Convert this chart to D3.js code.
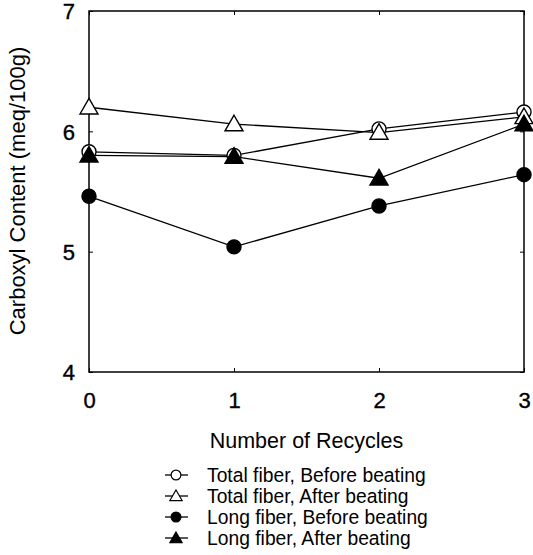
<!DOCTYPE html>
<html><head><meta charset="utf-8">
<script src="https://cdn.jsdelivr.net/npm/d3@7"></script>
<style>body{margin:0;background:#fff}</style>
</head><body>
<svg id="c" width="533" height="555"></svg>
<script>
const recycles = [0, 1, 2, 3];
const totalBefore = [5.83, 5.80, 6.02, 6.16];
const totalAfter = [6.20, 6.06, 5.99, 6.12];
const longBefore = [5.46, 5.04, 5.38, 5.64];
const longAfter = [5.80, 5.79, 5.61, 6.06];
const seriesNames = ["Total fiber, Before beating","Total fiber, After beating","Long fiber, Before beating","Long fiber, After beating"];
const xTicks = [0, 1, 2, 3];
const yTicks = [4, 5, 6, 7];

const series = [
  {name: seriesNames[0], values: totalBefore, shape: "circle", fill: "#fff"},
  {name: seriesNames[1], values: totalAfter, shape: "triangle", fill: "#fff"},
  {name: seriesNames[2], values: longBefore, shape: "circle", fill: "#000"},
  {name: seriesNames[3], values: longAfter, shape: "triangle", fill: "#000"}
];

const svg = d3.select("#c");
const L = 89, R = 524, T = 11, B = 372;
const x = d3.scaleLinear().domain([0, 3]).range([L, R]);
const y = d3.scaleLinear().domain([4, 7]).range([B, T]);
const font = "Liberation Sans, Arial, sans-serif";

// frame
svg.append("rect").attr("x", L).attr("y", T).attr("width", R - L).attr("height", B - T)
  .attr("fill", "none").attr("stroke", "#000").attr("stroke-width", 1.5);

// axes with inward ticks
const gx = svg.append("g").attr("transform", `translate(0,${B})`)
  .call(d3.axisBottom(x).tickValues(xTicks).tickSize(-4).tickPadding(20).tickFormat(d3.format("d")));
const gy = svg.append("g").attr("transform", `translate(${L},0)`)
  .call(d3.axisLeft(y).tickValues(yTicks).tickSize(-4).tickPadding(14).tickFormat(d3.format("d")));
svg.append("g").attr("transform", `translate(${R},0)`)
  .call(d3.axisRight(y).tickValues(yTicks).tickSize(-4).tickFormat(""));
svg.append("g").attr("transform", `translate(0,${T})`)
  .call(d3.axisTop(x).tickValues(xTicks).tickSize(-4).tickFormat(""));
svg.selectAll(".domain").remove();
svg.selectAll(".tick line").attr("stroke", "#000").attr("stroke-width", 1);
svg.selectAll(".tick text").attr("font-family", font).attr("font-size", 22).attr("fill", "#000")
  .attr("stroke", "#000").attr("stroke-width", 0.4);
gx.selectAll(".tick text").attr("dy", "0.71em");
gy.selectAll(".tick text").attr("dy", "0.36em");

// axis titles
svg.append("text").attr("x", x(1.5)).attr("y", 448).attr("text-anchor", "middle")
  .attr("font-family", font).attr("font-size", 21.5).text("Number of Recycles");
svg.append("text").attr("transform", `translate(25,191) rotate(-90)`)
  .attr("text-anchor", "middle").attr("font-family", font).attr("font-size", 22)
  .text("Carboxyl Content (meq/100g)");

const sym = s => s === "circle" ? d3.symbol(d3.symbolCircle, 155)() : d3.symbol(d3.symbolTriangle, 140)();
const line = d3.line().x((d, i) => x(recycles[i])).y(d => y(d));

series.forEach(s => {
  svg.append("path").attr("d", line(s.values)).attr("fill", "none")
    .attr("stroke", "#000").attr("stroke-width", 1.3);
});
series.forEach(s => {
  svg.append("g").selectAll("path").data(s.values).join("path")
    .attr("transform", (d, i) => `translate(${x(recycles[i])},${y(d) + (s.shape === "triangle" ? 1.5 : 0)})`)
    .attr("d", sym(s.shape)).attr("fill", s.fill).attr("stroke", "#000").attr("stroke-width", 1.4);
});

// legend
const lg = svg.append("g");
series.forEach((s, i) => {
  const yy = 475 + i * 21;
  lg.append("line").attr("x1", 165).attr("x2", 188).attr("y1", yy).attr("y2", yy)
    .attr("stroke", "#000").attr("stroke-width", 1.3);
  lg.append("path").attr("transform", `translate(176,${yy + (s.shape === "triangle" ? 1 : 0)})`)
    .attr("d", s.shape === "circle" ? d3.symbol(d3.symbolCircle, 75)() : d3.symbol(d3.symbolTriangle, 65)())
    .attr("fill", s.fill).attr("stroke", "#000").attr("stroke-width", 1.2);
  lg.append("text").attr("x", 207).attr("y", yy).attr("dy", "0.35em")
    .attr("font-family", font).attr("font-size", 19.3).text(s.name);
});
</script>
</body></html>
